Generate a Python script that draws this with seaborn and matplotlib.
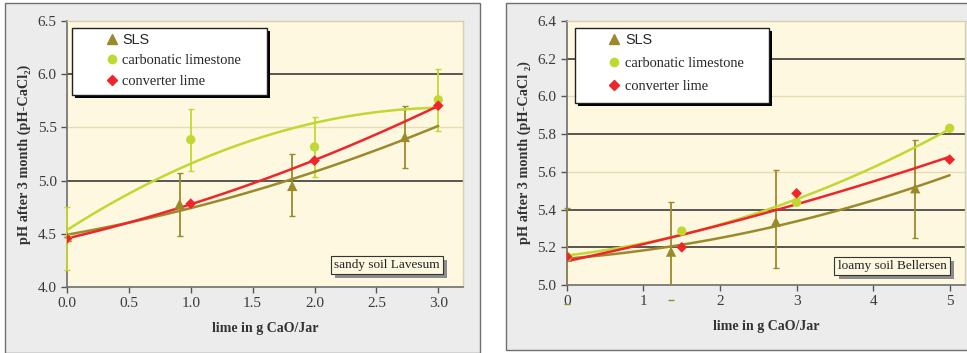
import numpy as np
import seaborn as sns
import matplotlib.pyplot as plt
from matplotlib.patches import Rectangle
from matplotlib.lines import Line2D
import matplotlib.patheffects as pe

# sandy soil Lavesum (left panel)
sandy_sls_x = [0.0, 0.91, 1.82, 2.73]
sandy_sls_y = [4.47, 4.78, 4.95, 5.41]
sandy_sls_lo = [4.47, 4.48, 4.67, 5.12]
sandy_sls_hi = [4.47, 5.07, 5.25, 5.70]
sandy_carb_x = [0.0, 1.0, 2.0, 3.0]
sandy_carb_y = [4.46, 5.385, 5.316, 5.76]
sandy_carb_lo = [4.16, 5.09, 5.03, 5.47]
sandy_carb_hi = [4.75, 5.67, 5.60, 6.05]
sandy_conv_x = [0.0, 1.0, 2.0, 3.0]
sandy_conv_y = [4.455, 4.783, 5.187, 5.704]

# loamy soil Bellersen (right panel)
loamy_sls_x = [0.0, 1.36, 2.73, 4.55]
loamy_sls_y = [5.15, 5.177, 5.336, 5.513]
loamy_sls_lo = [4.90, 4.92, 5.09, 5.25]
loamy_sls_hi = [5.41, 5.44, 5.61, 5.77]
loamy_carb_x = [0.0, 1.5, 3.0, 5.0]
loamy_carb_y = [5.15, 5.286, 5.438, 5.831]
loamy_conv_x = [0.0, 1.5, 3.0, 5.0]
loamy_conv_y = [5.15, 5.20, 5.486, 5.665]

labels = ["SLS", "carbonatic limestone", "converter lime"]
c_sls = "#9b8a2c"
c_carb = "#c2d832"
c_conv = "#f0252b"

sns.set_style("white")
plt.rcParams['font.family'] = ['Liberation Serif', 'DejaVu Serif']

fig = plt.figure(figsize=(9.67, 3.53), dpi=100)
fig.patch.set_facecolor("white")
fig.patches.append(Rectangle((0.0052, 0.0), 0.491, 0.9915, transform=fig.transFigure,
                             fc="#ececec", ec="#707070", lw=1, zorder=-10))
fig.patches.append(Rectangle((0.5233, 0.0085), 0.48, 0.983, transform=fig.transFigure,
                             fc="#ececec", ec="#707070", lw=1, zorder=-10))

ax1 = fig.add_axes([0.0693, 0.187, 0.4095, 0.7535])
ax2 = fig.add_axes([0.5863, 0.1926, 0.4116, 0.748])


def fit_line(ax, x, y, x_end, color):
    coef = np.polyfit(x, y, 2)
    xs = np.linspace(0, x_end, 100)
    sns.lineplot(x=xs, y=np.polyval(coef, xs), ax=ax, color=color, lw=1.8, zorder=4)


def err_bars(ax, x, y, lo, hi, color, clip_bars):
    y = np.array(y)
    eb = ax.errorbar(x, y, yerr=[y - np.array(lo), np.array(hi) - y], fmt="none",
                     ecolor=color, elinewidth=1.3, capsize=2.5, zorder=3)
    for cap in eb.lines[1]:
        cap.set_clip_on(False)
    for bar in eb.lines[2]:
        bar.set_clip_on(clip_bars)


def style_axes(ax, xlim, ylim, yticks, dark, light, xticks, xfmt, yfmt):
    ax.set_facecolor("#fdf8df")
    ax.set_xlim(*xlim)
    ax.set_ylim(*ylim)
    ax.set_yticks(yticks)
    ax.set_yticklabels([yfmt.format(v) for v in yticks])
    ax.set_xticks(xticks)
    ax.set_xticklabels([xfmt.format(v) for v in xticks])
    for v in dark:
        ax.axhline(v, color="#2a2a2a", lw=1.1, zorder=1)
    for v in light:
        ax.axhline(v, color="#e6ddb8", lw=1.0, zorder=1)
    for s in ["left", "bottom"]:
        ax.spines[s].set_color("#6e6e6e")
        ax.spines[s].set_linewidth(1.2)
    for s in ["top", "right"]:
        ax.spines[s].set_color("#d9d1ae")
        ax.spines[s].set_linewidth(1.0)
    ax.tick_params(axis="both", direction="out", length=4, width=1, color="#555555",
                   labelsize=11, labelcolor="#3a3a3a", bottom=True, left=True)
    ax.set_xlabel("lime in g CaO/Jar", fontsize=10, fontweight="bold", color="#333333", labelpad=8)


def legend_box(ax, x0, y0, w, h, mx, my, spacing):
    ax.add_patch(Rectangle((x0, y0), w, h, transform=ax.transAxes, fc="white", ec="#222222",
                           lw=1.0, zorder=6,
                           path_effects=[pe.withSimplePatchShadow(offset=(2, -2), shadow_rgbFace="black", alpha=1)]))
    handles = [
        Line2D([], [], ls="none", marker="^", ms=7, color=c_sls),
        Line2D([], [], ls="none", marker="o", ms=6, color=c_carb),
        Line2D([], [], ls="none", marker="D", ms=5, color=c_conv),
    ]
    leg = ax.legend(handles, labels, loc="upper left", bbox_to_anchor=(mx, my), frameon=False,
                    handlelength=0.8, handletextpad=0.35, borderpad=0, borderaxespad=0,
                    labelspacing=spacing, fontsize=10.4)
    leg.set_zorder(7)
    leg.get_texts()[0].set_family(["Liberation Sans", "DejaVu Sans"])


def soil_label(ax, text, x, y):
    t = ax.text(x, y, text, transform=ax.transAxes, ha="center", va="center", fontsize=9.5,
                color="#222222", zorder=6,
                bbox=dict(boxstyle="square,pad=0.25", fc="#fdf8df", ec="#333333", lw=0.8))
    t.get_bbox_patch().set_path_effects(
        [pe.withSimplePatchShadow(offset=(3, -3), shadow_rgbFace="#8c8c8c", alpha=1)])


# left panel
style_axes(ax1, (0, 3.2), (4.0, 6.5), np.arange(4.0, 6.51, 0.5), [5.0, 6.0], [5.5],
           np.arange(0, 3.01, 0.5), "{:.1f}", "{:.1f}")
ax1.set_ylabel("pH after 3 month (pH-CaCl₂)", fontsize=10.3, fontweight="bold", color="#333333", labelpad=5)
fit_line(ax1, sandy_carb_x, sandy_carb_y, 3.0, c_carb)
fit_line(ax1, sandy_sls_x, sandy_sls_y, 3.0, c_sls)
fit_line(ax1, sandy_conv_x, sandy_conv_y, 3.0, c_conv)
err_bars(ax1, sandy_carb_x, sandy_carb_y, sandy_carb_lo, sandy_carb_hi, c_carb, False)
err_bars(ax1, sandy_sls_x, sandy_sls_y, sandy_sls_lo, sandy_sls_hi, c_sls, False)
sns.scatterplot(x=sandy_sls_x, y=sandy_sls_y, ax=ax1, marker="^", s=55, color=c_sls, edgecolor="none", zorder=5)
sns.scatterplot(x=sandy_carb_x, y=sandy_carb_y, ax=ax1, marker="o", s=45, color=c_carb, edgecolor="none", zorder=5)
sns.scatterplot(x=sandy_conv_x, y=sandy_conv_y, ax=ax1, marker="D", s=30, color=c_conv, edgecolor="none", zorder=5)
legend_box(ax1, 0.0126, 0.722, 0.492, 0.252, 0.098, 0.955, 0.5)
soil_label(ax1, "sandy soil Lavesum", 0.808, 0.083)

# right panel
style_axes(ax2, (0, 5.2), (5.0, 6.4), np.arange(5.0, 6.41, 0.2), [5.2, 5.4, 5.8, 6.2], [5.6, 6.0],
           np.arange(0, 6, 1), "{:d}", "{:.1f}")
ax2.set_ylabel("pH after 3 month (pH-CaCl ₂)", fontsize=10.3, fontweight="bold", color="#333333", labelpad=5)
fit_line(ax2, loamy_sls_x, loamy_sls_y, 5.0, c_sls)
fit_line(ax2, loamy_carb_x, loamy_carb_y, 5.0, c_carb)
fit_line(ax2, loamy_conv_x, loamy_conv_y, 5.0, c_conv)
err_bars(ax2, loamy_sls_x, loamy_sls_y, loamy_sls_lo, loamy_sls_hi, c_sls, True)
sns.scatterplot(x=loamy_sls_x, y=loamy_sls_y, ax=ax2, marker="^", s=55, color=c_sls, edgecolor="none", zorder=5)
sns.scatterplot(x=loamy_carb_x, y=loamy_carb_y, ax=ax2, marker="o", s=45, color=c_carb, edgecolor="none", zorder=5)
sns.scatterplot(x=loamy_conv_x, y=loamy_conv_y, ax=ax2, marker="D", s=30, color=c_conv, edgecolor="none", zorder=5)
legend_box(ax2, 0.020, 0.689, 0.488, 0.284, 0.104, 0.955, 0.7)
soil_label(ax2, "loamy soil Bellersen", 0.817, 0.072)

fig.savefig("out.png", dpi=100)
